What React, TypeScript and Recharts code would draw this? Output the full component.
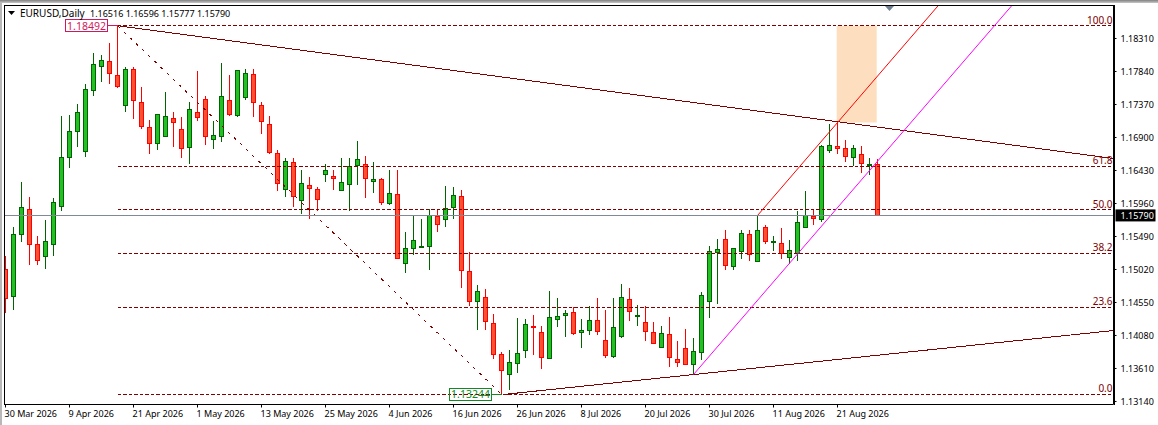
import { Bar, ComposedChart, ReferenceArea, ReferenceDot, ReferenceLine, XAxis, YAxis } from 'recharts';

const opens = [
  1.1502, 1.14635, 1.15518, 1.15874, 1.15376, 1.15205, 1.15376, 1.15917, 1.16615, 1.16985,
  1.167, 1.17569, 1.17911, 1.17982, 1.17783, 1.17356, 1.17868, 1.17398, 1.17042, 1.16814,
  1.16914, 1.1717, 1.17014, 1.16758, 1.17256, 1.17441, 1.16871, 1.16914, 1.17427, 1.17213,
  1.17469, 1.17797, 1.17356, 1.17085, 1.16672, 1.16159, 1.16544, 1.16003, 1.16216, 1.16159,
  1.16373, 1.16344, 1.16145, 1.1623, 1.16501, 1.16515, 1.16273, 1.16302, 1.1596, 1.16088,
  1.15105, 1.15319, 1.15333, 1.15347, 1.15775, 1.15732, 1.15903, 1.16059, 1.14991, 1.14564,
  1.14621, 1.14251, 1.13809, 1.13524, 1.13681, 1.13866, 1.14208, 1.14122, 1.13752, 1.14308,
  1.14365, 1.14407, 1.14122, 1.14151, 1.14293, 1.14008, 1.13781, 1.14065, 1.14592, 1.1435,
  1.14265, 1.14122, 1.13909, 1.14094, 1.13738, 1.13895, 1.13667, 1.13838, 1.14564, 1.15262,
  1.15447, 1.15063, 1.15276, 1.15518, 1.15134, 1.15618, 1.15404, 1.1539, 1.15191, 1.15248,
  1.15618, 1.15775, 1.15732, 1.16715, 1.16772, 1.16743, 1.16615, 1.16658, 1.16501, 1.16516,
];
const highs = [
  1.15205, 1.15632, 1.16273, 1.16059, 1.1549, 1.15718, 1.16045, 1.17213, 1.17227, 1.17384,
  1.17655, 1.1811, 1.18082, 1.18239, 1.18492, 1.17897, 1.17911, 1.17626, 1.17156, 1.17227,
  1.17541, 1.1727, 1.17199, 1.17412, 1.17854, 1.17484, 1.17128, 1.17968, 1.17783, 1.17868,
  1.17882, 1.17882, 1.17412, 1.17213, 1.16715, 1.16601, 1.16615, 1.16444, 1.16344, 1.16188,
  1.16529, 1.16444, 1.16615, 1.16615, 1.16857, 1.16643, 1.16558, 1.1633, 1.16444, 1.16444,
  1.15547, 1.15775, 1.15732, 1.15888, 1.15888, 1.16216, 1.16188, 1.16159, 1.15276, 1.14806,
  1.14735, 1.14379, 1.13838, 1.1388, 1.14336, 1.14308, 1.14365, 1.14222, 1.1472, 1.14621,
  1.1445, 1.14479, 1.14308, 1.14493, 1.14607, 1.1445, 1.14621, 1.1482, 1.14763, 1.14521,
  1.14493, 1.14279, 1.14208, 1.1435, 1.14008, 1.14179, 1.14051, 1.14706, 1.15361, 1.15461,
  1.15589, 1.15333, 1.15589, 1.15589, 1.15789, 1.15647, 1.1549, 1.15618, 1.15447, 1.1586,
  1.16131, 1.15874, 1.16786, 1.17099, 1.17113, 1.16871, 1.16786, 1.16772, 1.16601, 1.16596,
];
const lows = [
  1.14407, 1.14436, 1.15418, 1.15077, 1.15091, 1.15034, 1.15219, 1.15846, 1.16472, 1.16758,
  1.16629, 1.17484, 1.17697, 1.17655, 1.17598, 1.1727, 1.1717, 1.17014, 1.16672, 1.16715,
  1.16914, 1.16758, 1.16601, 1.16529, 1.17142, 1.16786, 1.16743, 1.16829, 1.17213, 1.17199,
  1.17441, 1.17199, 1.16943, 1.16658, 1.16145, 1.16059, 1.15903, 1.15817, 1.15746, 1.1586,
  1.16259, 1.16159, 1.16145, 1.1586, 1.1623, 1.16045, 1.16116, 1.15945, 1.15945, 1.15176,
  1.14977, 1.15233, 1.15333, 1.15006, 1.15561, 1.15632, 1.15732, 1.14763, 1.14493, 1.14165,
  1.14165, 1.13738, 1.13244, 1.1331, 1.13539, 1.13766, 1.13809, 1.13596, 1.13738, 1.14194,
  1.14065, 1.1408, 1.13895, 1.1408, 1.14094, 1.13766, 1.13766, 1.14051, 1.14293, 1.14222,
  1.14008, 1.13966, 1.13909, 1.13624, 1.13624, 1.13667, 1.13524, 1.13724, 1.14322, 1.14535,
  1.15006, 1.15006, 1.15176, 1.15134, 1.15134, 1.15376, 1.1529, 1.15176, 1.15105, 1.15134,
  1.15604, 1.15647, 1.15703, 1.16686, 1.16672, 1.16544, 1.16501, 1.16401, 1.16359, 1.15777,
];
const closes = [
  1.14607, 1.15518, 1.15903, 1.15376, 1.15148, 1.15418, 1.15974, 1.16615, 1.16985, 1.17256,
  1.17583, 1.17939, 1.17996, 1.17811, 1.17626, 1.17868, 1.17427, 1.17056, 1.16814, 1.17227,
  1.17199, 1.17113, 1.16743, 1.17299, 1.17185, 1.16914, 1.16928, 1.17484, 1.17227, 1.17854,
  1.17811, 1.17398, 1.17128, 1.16686, 1.16245, 1.16558, 1.16059, 1.16245, 1.16173, 1.16017,
  1.1643, 1.16316, 1.16259, 1.16487, 1.16586, 1.16316, 1.16302, 1.15974, 1.16102, 1.15176,
  1.15319, 1.15433, 1.15347, 1.15789, 1.15661, 1.15888, 1.16074, 1.15006, 1.14564, 1.14706,
  1.14279, 1.13809, 1.13581, 1.13695, 1.13823, 1.14236, 1.14194, 1.13766, 1.14336, 1.1435,
  1.14393, 1.14108, 1.14151, 1.14293, 1.14137, 1.13795, 1.14194, 1.14621, 1.14422, 1.14365,
  1.14137, 1.13966, 1.14108, 1.13766, 1.13695, 1.13667, 1.13852, 1.14649, 1.15276, 1.15304,
  1.15077, 1.15319, 1.15532, 1.15233, 1.15575, 1.15418, 1.15418, 1.15248, 1.1529, 1.15689,
  1.15789, 1.15746, 1.16772, 1.16786, 1.16743, 1.16629, 1.16743, 1.16529, 1.16515, 1.1579,
];

const dateLabels = [
  '30 Mar 2026', '9 Apr 2026', '21 Apr 2026', '1 May 2026', '13 May 2026', '25 May 2026', '4 Jun 2026',
  '16 Jun 2026', '26 Jun 2026', '8 Jul 2026', '20 Jul 2026', '30 Jul 2026', '11 Aug 2026', '21 Aug 2026',
];
const dateTicks = [0, 8, 16, 24, 32, 40, 48, 56, 64, 72, 80, 88, 96, 104];
const priceTicks = [1.1314, 1.1361, 1.1408, 1.1455, 1.1502, 1.1549, 1.1596, 1.1643, 1.169, 1.1737, 1.1784, 1.1831];

const fibLevels = [1.18492, 1.16487, 1.15868, 1.15249, 1.14483, 1.13244];
const fibNames = ['100.0', '61.8', '50.0', '38.2', '23.6', '0.0'];

const xMin = -0.125;
const xMax = 138.5;
const yMin = 1.13097;
const yMax = 1.1878;

const GREEN = '#006400';
const RED = '#ff0000';
const MAROON = '#800000';
const FONT = '"Noto Sans", sans-serif';
const TEXT_SIZE = 9;

const data = opens.map((open, i) => ({
  i,
  open,
  close: closes[i],
  high: highs[i],
  low: lows[i],
  range: [lows[i], highs[i]],
}));

function Candle(props: any) {
  const { x, y, width, height, payload } = props;
  const k = height / (payload.high - payload.low);
  const up = payload.close >= payload.open;
  const cx = Math.floor(x + width / 2) + 0.5;
  const top = Math.round(y + (payload.high - Math.max(payload.open, payload.close)) * k - 0.5) + 0.5;
  const bot = Math.round(y + (payload.high - Math.min(payload.open, payload.close)) * k - 0.5) + 0.5;
  const color = up ? GREEN : RED;
  return (
    <g shapeRendering="crispEdges">
      <line x1={cx} x2={cx} y1={y} y2={y + height} stroke={color} />
      <rect x={cx - 2} y={top} width={4} height={Math.max(bot - top, 1)} fill={up ? '#22c022' : '#ff5030'} stroke={color} />
    </g>
  );
}

const DateTick = ({ x, y, payload }: any) => (
  <text x={x - 1} y={y + 9} fontSize={TEXT_SIZE} fontFamily={FONT} fill="#000">
    {dateLabels[dateTicks.indexOf(payload.value)]}
  </text>
);

const PriceTick = ({ x, y, payload }: any) => (
  <text x={x} y={y + 3.5} fontSize={TEXT_SIZE} fontFamily={FONT} fill="#000">
    {payload.value.toFixed(5)}
  </text>
);

const boxLabel = (text: string, color: string) => (p: any) => (
  <g>
    <line x1={p.cx - 10} x2={p.cx} y1={p.cy} y2={p.cy} stroke={color} shapeRendering="crispEdges" />
    <rect x={p.cx - 52} y={p.cy - 6} width={42} height={12} fill="none" stroke={color} shapeRendering="crispEdges" />
    <text x={p.cx - 31} y={p.cy + 4} textAnchor="middle" fontSize={10.5} fontFamily={FONT} fill={color}>{text}</text>
  </g>
);

const priceTag = (p: any) => (
  <g>
    <rect x={p.cx + 2} y={p.cy - 6} width={40} height={12} fill="#000" />
    <text x={p.cx + 7} y={p.cy + 3.5} fontSize={TEXT_SIZE} fontFamily={FONT} fill="#fff">{closes[closes.length - 1].toFixed(5)}</text>
  </g>
);

const fibLabel = (text: string) => (p: any) => (
  <text x={p.cx - 1} y={p.cy - 2} textAnchor="end" fontSize={10} fontFamily={FONT} fill={MAROON}>{text}</text>
);

export default function App() {
  return (
    <div style={{ position: 'absolute', left: 0, top: 0, width: 1158, height: 425, background: '#fff', overflow: 'hidden' }}>
      <ComposedChart width={1158} height={425} data={data} barSize={8} margin={{ top: 5.5, right: 0, bottom: 0, left: 4.5 }}>
        <XAxis
          dataKey="i"
          type="number"
          domain={[xMin, xMax]}
          ticks={dateTicks}
          allowDataOverflow
          height={20.5}
          tick={DateTick}
          tickSize={3}
          tickMargin={0}
          interval={0}
          stroke="#000"
        />
        <YAxis
          orientation="right"
          type="number"
          domain={[yMin, yMax]}
          ticks={priceTicks}
          allowDataOverflow
          width={44.5}
          tick={PriceTick}
          tickSize={3}
          tickMargin={4}
          interval={0}
          stroke="#000"
        />
        <ReferenceArea x1={103.9} x2={108.9} y1={1.18492} y2={1.17113} fill="#fddfbf" fillOpacity={1} stroke="none" />
        {fibLevels.map((level) => (
          <ReferenceLine
            key={level}
            segment={[{ x: 14, y: level }, { x: xMax, y: level }]}
            stroke={MAROON}
            strokeDasharray="3.5 2"
            shapeRendering="crispEdges"
          />
        ))}
        <ReferenceLine segment={[{ x: 14, y: 1.18492 }, { x: 62, y: 1.13244 }]} stroke={MAROON} strokeDasharray="3 5.5" shapeRendering="crispEdges" />
        <ReferenceLine segment={[{ x: 14, y: 1.18492 }, { x: xMax, y: 1.16601 }]} stroke={MAROON} strokeWidth={1} shapeRendering="crispEdges" />
        <ReferenceLine segment={[{ x: 62.6, y: 1.13244 }, { x: xMax, y: 1.14151 }]} stroke={MAROON} strokeWidth={1} shapeRendering="crispEdges" />
        <ReferenceLine segment={[{ x: 94, y: 1.15789 }, { x: 116.6, y: 1.1878 }]} stroke={RED} strokeWidth={1} />
        <ReferenceLine segment={[{ x: 86, y: 1.13524 }, { x: 125.8, y: 1.1878 }]} stroke="#ff00ff" strokeWidth={1} />
        <ReferenceLine y={1.1579} stroke="#7f8a96" shapeRendering="crispEdges" />
        <Bar dataKey="range" shape={Candle} isAnimationActive={false} />
        {fibLevels.map((level, n) => (
          <ReferenceDot key={level} x={xMax} y={level} r={0} ifOverflow="visible" shape={fibLabel(fibNames[n])} />
        ))}
        <ReferenceDot x={14} y={1.18492} r={0} ifOverflow="visible" shape={boxLabel('1.18492', '#d0185c')} />
        <ReferenceDot x={62} y={1.13244} r={0} ifOverflow="visible" shape={boxLabel('1.13244', '#118a22')} />
        <ReferenceDot x={xMax} y={1.1579} r={0} ifOverflow="visible" shape={priceTag} />
      </ComposedChart>
      {/* window frame and chart title */}
      <div style={{ position: 'absolute', left: 0, top: 0, width: 4, height: 425, background: '#fff' }} />
      <div style={{ position: 'absolute', left: 0, top: 0, width: 2, height: 425, background: '#b8b8b8' }} />
      <div style={{ position: 'absolute', left: 0, top: 0, width: 1158, height: 3, background: 'linear-gradient(#808080,#c8c8c8)' }} />
      <div style={{ position: 'absolute', left: 4, top: 5, width: 1109, height: 399, borderLeft: '1px solid #000', borderTop: '1px solid #000', borderRight: '1px solid #000', pointerEvents: 'none' }} />
      <svg style={{ position: 'absolute', left: 0, top: 0 }} width={1158} height={30}>
        <polygon points="8,11 15,11 11.5,15" fill="#000" />
        <polygon points="885,6 894,6 889.5,11" fill="#708090" />
        <text x={20} y={17} fontSize={10} fontFamily={FONT} fill="#000">EURUSD,Daily</text>
        <text x={90} y={17} fontSize={TEXT_SIZE} fontFamily={FONT} fill="#000">1.16516 1.16596 1.15777 1.15790</text>
      </svg>
    </div>
  );
}
